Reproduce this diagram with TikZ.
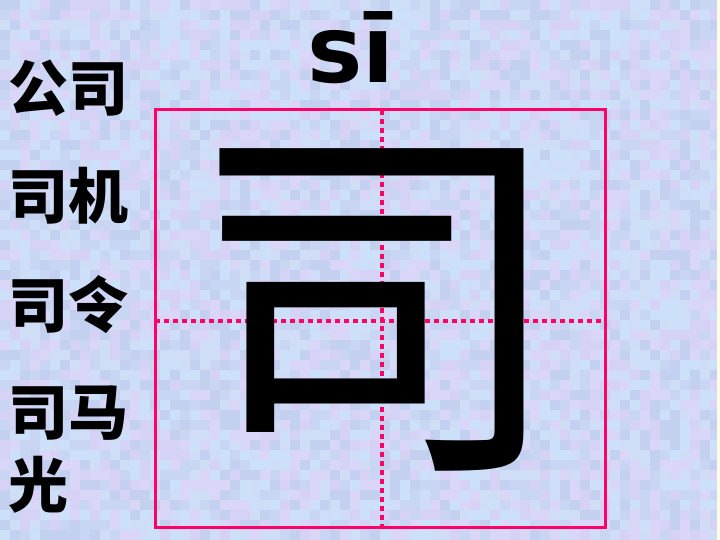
\documentclass[tikz,border=0pt]{standalone}
\usepackage{fontspec}
\newfontfamily\cjk{Noto Sans CJK SC}
\newfontfamily\pyfont{DejaVu Sans}
\definecolor{gridpink}{RGB}{255,0,102}
\definecolor{bgbase}{RGB}{206,218,246}
\definecolor{bg1}{RGB}{200,214,244}
\definecolor{bg2}{RGB}{213,210,246}
\definecolor{bg3}{RGB}{204,225,249}
\definecolor{bg4}{RGB}{196,208,240}
\definecolor{bg5}{RGB}{217,214,247}
\definecolor{bg6}{RGB}{207,221,247}
\definecolor{edgecol}{RGB}{255,255,232}
\tikzset{
  word/.style={anchor=west, inner sep=0pt, font=\cjk\bfseries\fontsize{60}{60}\selectfont},
  bigchar/.style={inner sep=0pt, font=\cjk\fontsize{380}{380}\selectfont},
  pinyin/.style={anchor=base west, inner sep=0pt, font=\pyfont\bfseries\fontsize{93}{93}\selectfont},
  gridbox/.style={draw=gridpink, line width=3pt},
  gridline/.style={draw=gridpink, line width=3.2pt, dash pattern=on 5pt off 4pt}
}
\begin{document}
\begin{tikzpicture}[x=1pt,y=-1pt]
\useasboundingbox (0,0) rectangle (720,540);
\fill[bgbase] (0,0) rectangle (720,540);
\pgfmathsetseed{7}
\foreach \i in {0,...,71}{
  \foreach \j in {0,...,53}{
    \pgfmathrandominteger{\k}{1}{6}
    \fill[bg\k] (\i*10,\j*10) rectangle ++(10,10);
  }
}
\fill[edgecol] (717,0) rectangle (720,540);
% grid
\coordinate (tl) at (155,110);
\coordinate (br) at (605,527);
\coordinate (vt) at (382,110);
\coordinate (vb) at (382,527);
\coordinate (hl) at (155,321);
\coordinate (hr) at (605,321);
\draw[gridline] (vt) -- (vb);
\draw[gridline] (hl) -- (hr);
\draw[gridbox] (tl) rectangle (br);
% big character
\node[bigchar] (big) at (376,310) {司};
% pinyin
\node[pinyin] (py) at (307,83) {sī};
% words
\node[word] (w1) at (8,88) {公司};
\node[word] (w2) at (8,196) {司机};
\node[word] (w3) at (8,305) {司令};
\node[word] (w4) at (8,413) {司马};
\node[word] (w5) at (8,485) {光};
\end{tikzpicture}
\end{document}
